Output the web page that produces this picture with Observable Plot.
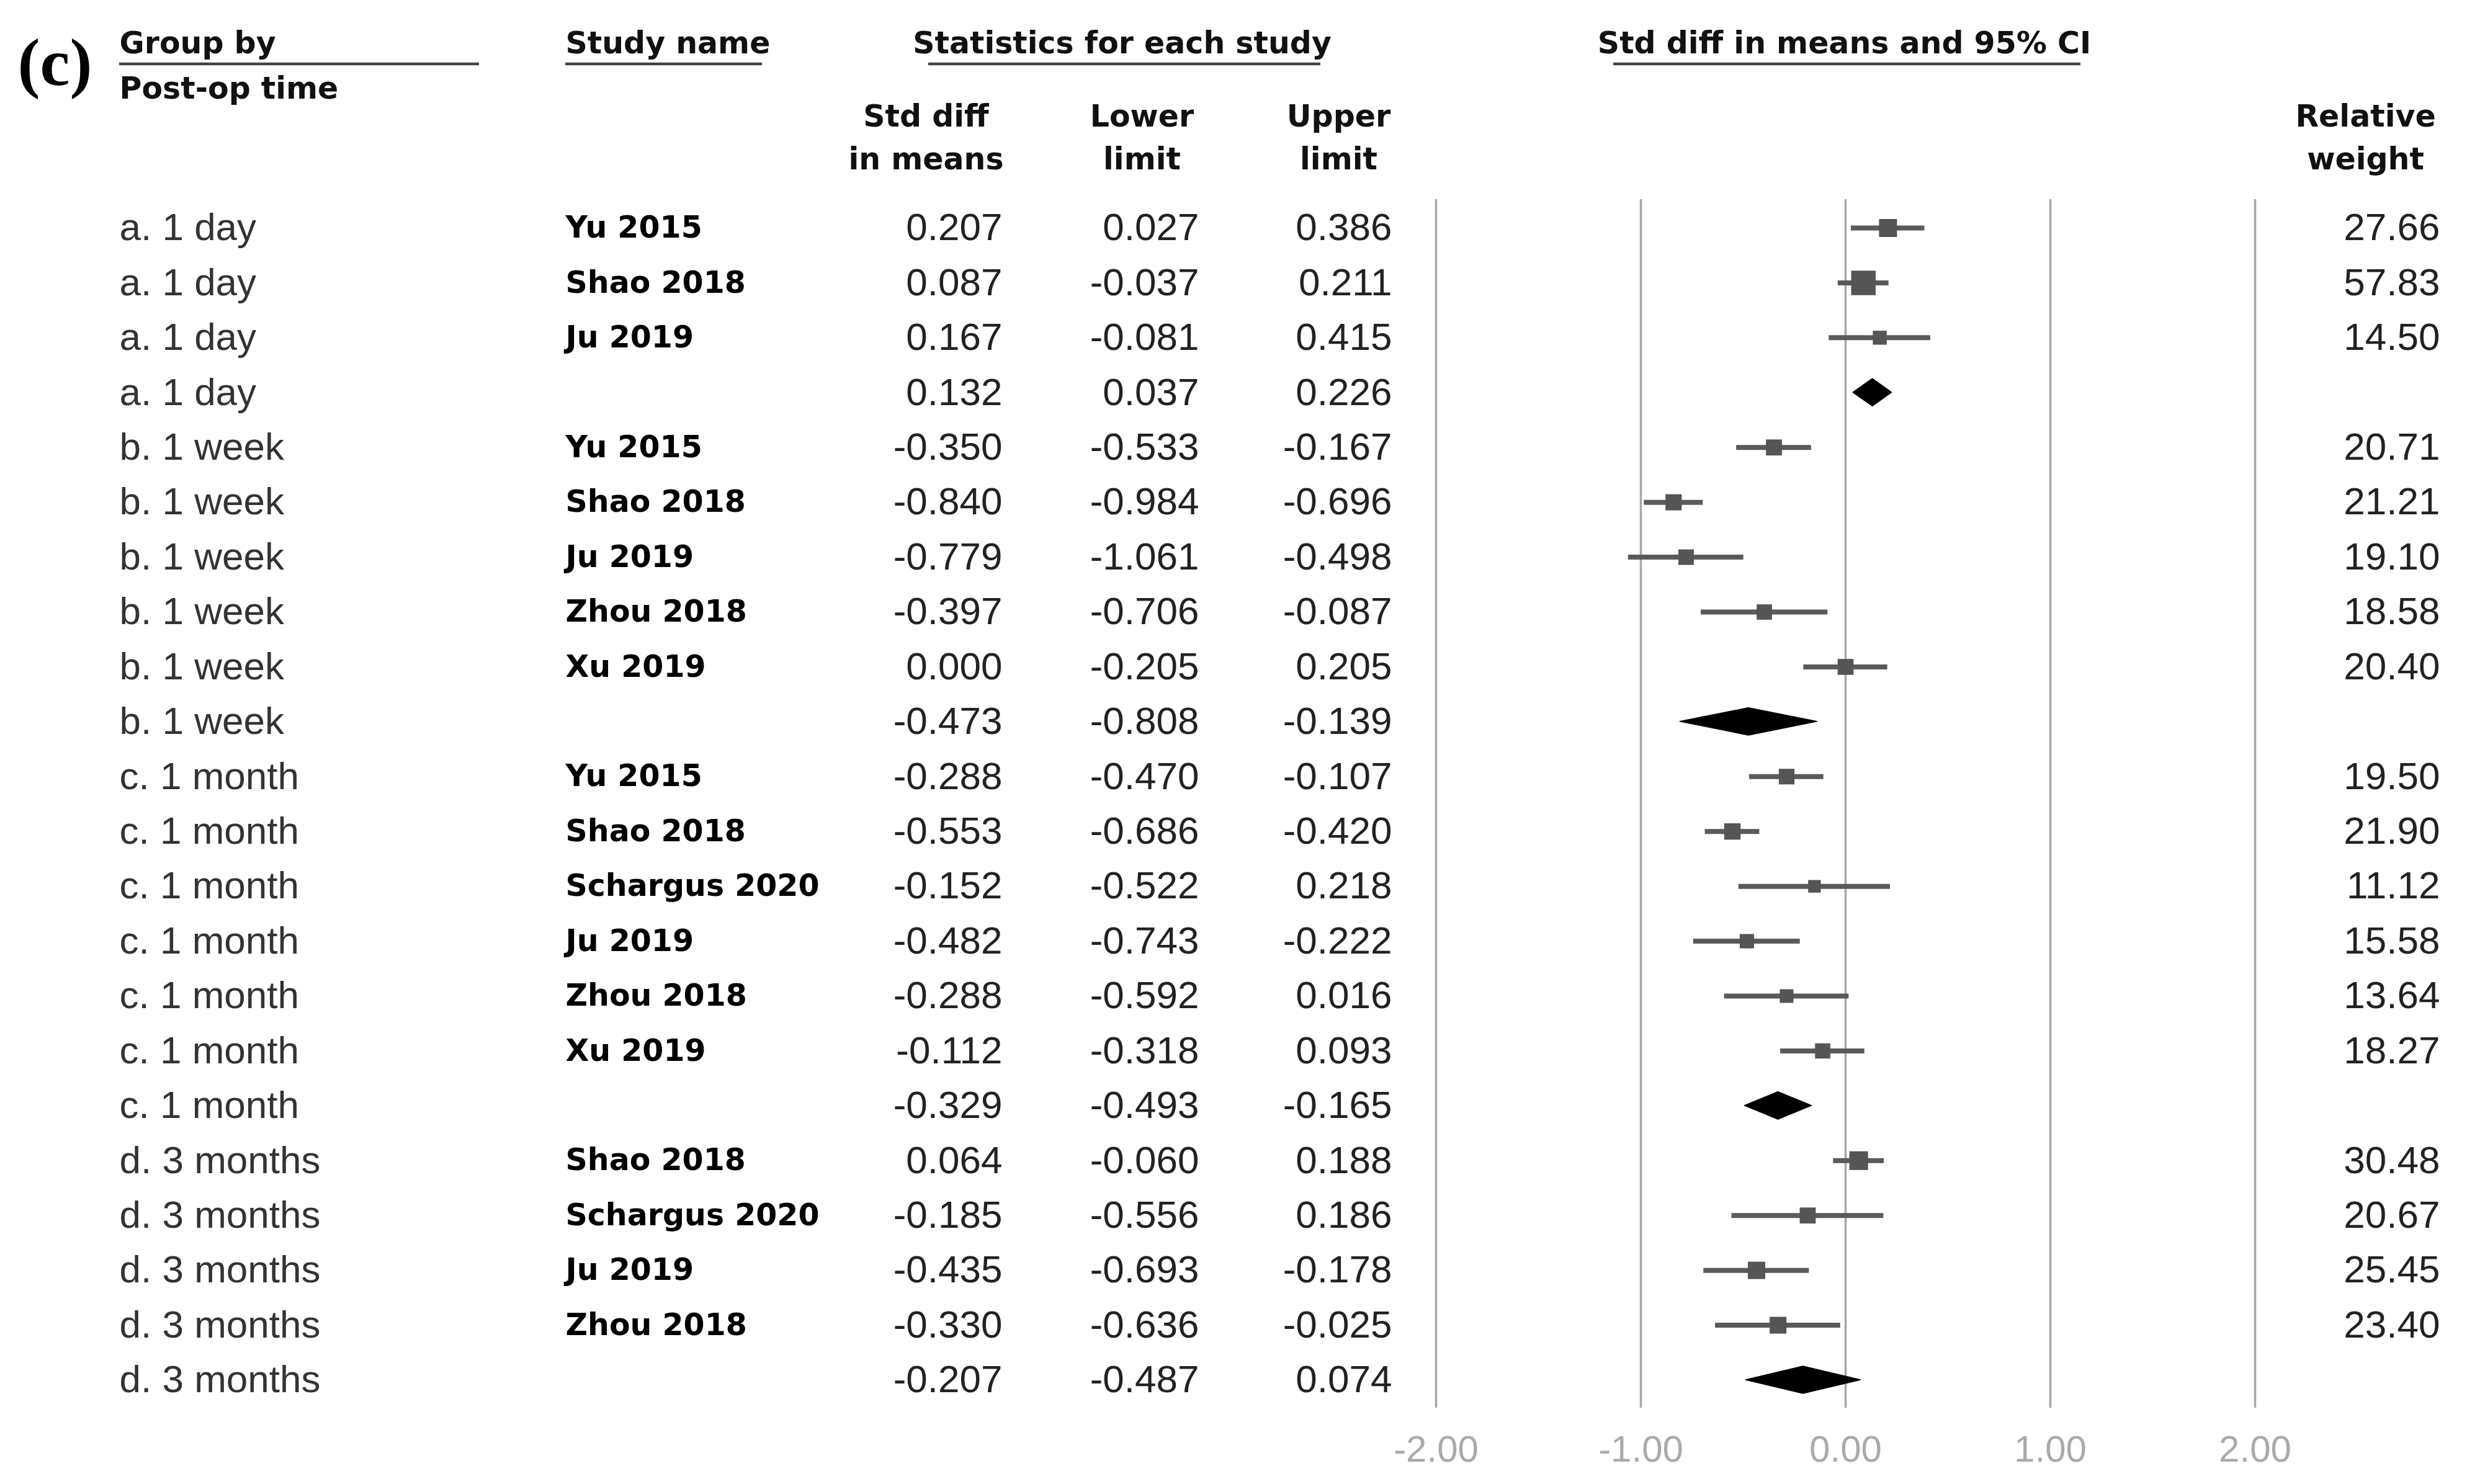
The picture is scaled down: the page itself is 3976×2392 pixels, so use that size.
<!DOCTYPE html>
<html><head><meta charset="utf-8">
<script src="https://cdn.jsdelivr.net/npm/d3@7"></script>
<script src="https://cdn.jsdelivr.net/npm/@observablehq/plot@0.6"></script>
<style>html,body{margin:0;padding:0;background:#fff;} svg{display:block;}</style>
</head><body>
<script>
// ---------- data ----------
const groups = ["a. 1 day","a. 1 day","a. 1 day","a. 1 day",
  "b. 1 week","b. 1 week","b. 1 week","b. 1 week","b. 1 week","b. 1 week",
  "c. 1 month","c. 1 month","c. 1 month","c. 1 month","c. 1 month","c. 1 month","c. 1 month",
  "d. 3 months","d. 3 months","d. 3 months","d. 3 months","d. 3 months"];
const studies = ["Yu 2015","Shao 2018","Ju 2019","",
  "Yu 2015","Shao 2018","Ju 2019","Zhou 2018","Xu 2019","",
  "Yu 2015","Shao 2018","Schargus 2020","Ju 2019","Zhou 2018","Xu 2019","",
  "Shao 2018","Schargus 2020","Ju 2019","Zhou 2018",""];
const est   = [0.207,0.087,0.167,0.132,-0.350,-0.840,-0.779,-0.397,0.000,-0.473,-0.288,-0.553,-0.152,-0.482,-0.288,-0.112,-0.329,0.064,-0.185,-0.435,-0.330,-0.207];
const lower = [0.027,-0.037,-0.081,0.037,-0.533,-0.984,-1.061,-0.706,-0.205,-0.808,-0.470,-0.686,-0.522,-0.743,-0.592,-0.318,-0.493,-0.060,-0.556,-0.693,-0.636,-0.487];
const upper = [0.386,0.211,0.415,0.226,-0.167,-0.696,-0.498,-0.087,0.205,-0.139,-0.107,-0.420,0.218,-0.222,0.016,0.093,-0.165,0.188,0.186,-0.178,-0.025,0.074];
const weights = [27.66,57.83,14.50,null,20.71,21.21,19.10,18.58,20.40,null,19.50,21.90,11.12,15.58,13.64,18.27,null,30.48,20.67,25.45,23.40,null];
const xTicks = [-2,-1,0,1,2];
const panelLabel = "(c)";
const headTop = ["Group by","Study name","Statistics for each study","Std diff in means and 95% CI"];
const headSub = "Post-op time";
const colHeads = [["Std diff","in means"],["Lower","limit"],["Upper","limit"],["Relative","weight"]];

// ---------- layout ----------
const W = 3976, H = 2392, ML = 2314, MR = 342, MT = 321, MB = 123;
const ROW_TOP = 367, ROW_BOT = 2224;
const DIAMOND_H = 0.25;
const BOLD = "DejaVu Sans, Verdana, sans-serif";
const REG = "Liberation Sans, Arial, sans-serif";
const colPx = {group:192, study:911, est:1615, lower:1932, upper:2243, weight:3932};
const headTopPx = [[192,"start"],[911,"start"],[1808,"middle"],[2972,"middle"]];
const colHeadPx = [1492, 1840, 2157, 3812];
const underlinePx = [[192,772],[911,1228],[1496,2128],[2600,3353]];

const rows = groups.map((g,i)=>({row:i, group:g, study:studies[i], est:est[i], lower:lower[i], upper:upper[i], weight:weights[i]}));
const studyRows = rows.filter(d=>d.weight!=null);
const summaryRows = rows.filter(d=>d.weight==null);
const diamonds = summaryRows.flatMap(d=>[
  {z:d.row, x:d.lower, y1:d.row, y2:d.row},
  {z:d.row, x:d.est, y1:d.row-DIAMOND_H, y2:d.row+DIAMOND_H},
  {z:d.row, x:d.upper, y1:d.row, y2:d.row}]);

const f3 = v => (v<0?"-":"") + Math.abs(v).toFixed(3);
const f2 = v => (v<0?"-":"") + Math.abs(v).toFixed(2);

const at = (px, py) => ({frameAnchor:"top-left", dx: px-ML, dy: py-MT});
const label = (t, px, py, opts) => Plot.text([t], {...at(px,py), text:d=>d, lineAnchor:"bottom", ...opts});
const col = (fn, px, anchor, opts) => Plot.text(rows, {y:"row", text:fn, frameAnchor:"left", dx:px-ML, textAnchor:anchor, lineAnchor:"middle", ...opts});

const underlines = () => {
  const g = d3.create("svg:g");
  for (const [a,b] of underlinePx) g.append("line").attr("x1",a).attr("x2",b).attr("y1",103).attr("y2",103).attr("stroke","#444").attr("stroke-width",4.5);
  return g.node();
};

const boldOpts = {fontFamily:BOLD, fontWeight:"bold", fontSize:49, fill:"#111"};

const marks = [
  Plot.ruleX(xTicks, {stroke:"#a8a8a8", strokeWidth:3.5}),
  Plot.text(xTicks, {x:d=>d, text:f2, frameAnchor:"bottom", dy:44, lineAnchor:"top", fill:"#aaa", fontSize:60, fontFamily:REG}),
  Plot.ruleY(studyRows, {y:"row", x1:"lower", x2:"upper", stroke:"#5a5a5a", strokeWidth:8}),
  Plot.dot(studyRows, {x:"est", y:"row", r:"weight", symbol:"square", fill:"#555", stroke:null}),
  Plot.areaY(diamonds, {x:"x", y1:"y1", y2:"y2", z:"z", fill:"#000", stroke:"#000", strokeWidth:1.5}),
  // table columns
  col(d=>d.group, colPx.group, "start", {fontFamily:REG, fontSize:62, fill:"#333"}),
  col(d=>d.study, colPx.study, "start", {...boldOpts, fill:"#000"}),
  col(d=>f3(d.est), colPx.est, "end", {fontFamily:REG, fontSize:62, fill:"#222"}),
  col(d=>f3(d.lower), colPx.lower, "end", {fontFamily:REG, fontSize:62, fill:"#222"}),
  col(d=>f3(d.upper), colPx.upper, "end", {fontFamily:REG, fontSize:62, fill:"#222"}),
  col(d=>d.weight==null?"":d.weight.toFixed(2), colPx.weight, "end", {fontFamily:REG, fontSize:62, fill:"#222"}),
  // headers
  label(panelLabel, 28, 136, {fontFamily:"Liberation Serif, Times New Roman, serif", fontWeight:"bold", fontSize:108, textAnchor:"start", fill:"#000"}),
  ...headTop.map((t,i)=>label(t, headTopPx[i][0], 85, {...boldOpts, textAnchor:headTopPx[i][1]})),
  label(headSub, 192, 158, {...boldOpts, textAnchor:"start"}),
  ...colHeads.flatMap((h,i)=>[
    label(h[0], colHeadPx[i], 203, {...boldOpts, textAnchor:"middle"}),
    label(h[1], colHeadPx[i], 272, {...boldOpts, textAnchor:"middle"})]),
  underlines
];

const chart = Plot.plot({
  width:W, height:H,
  marginLeft:ML, marginRight:MR, marginTop:MT, marginBottom:MB,
  x:{domain:[-2,2], axis:null},
  y:{type:"linear", domain:[0,21], range:[ROW_TOP, ROW_BOT], axis:null},
  r:{type:"sqrt", domain:[0,60], range:[3.1,22.6]},
  style:{fontFamily:REG, background:"#fff", color:"#222"},
  marks
});
document.body.appendChild(chart);
</script>
</body></html>
